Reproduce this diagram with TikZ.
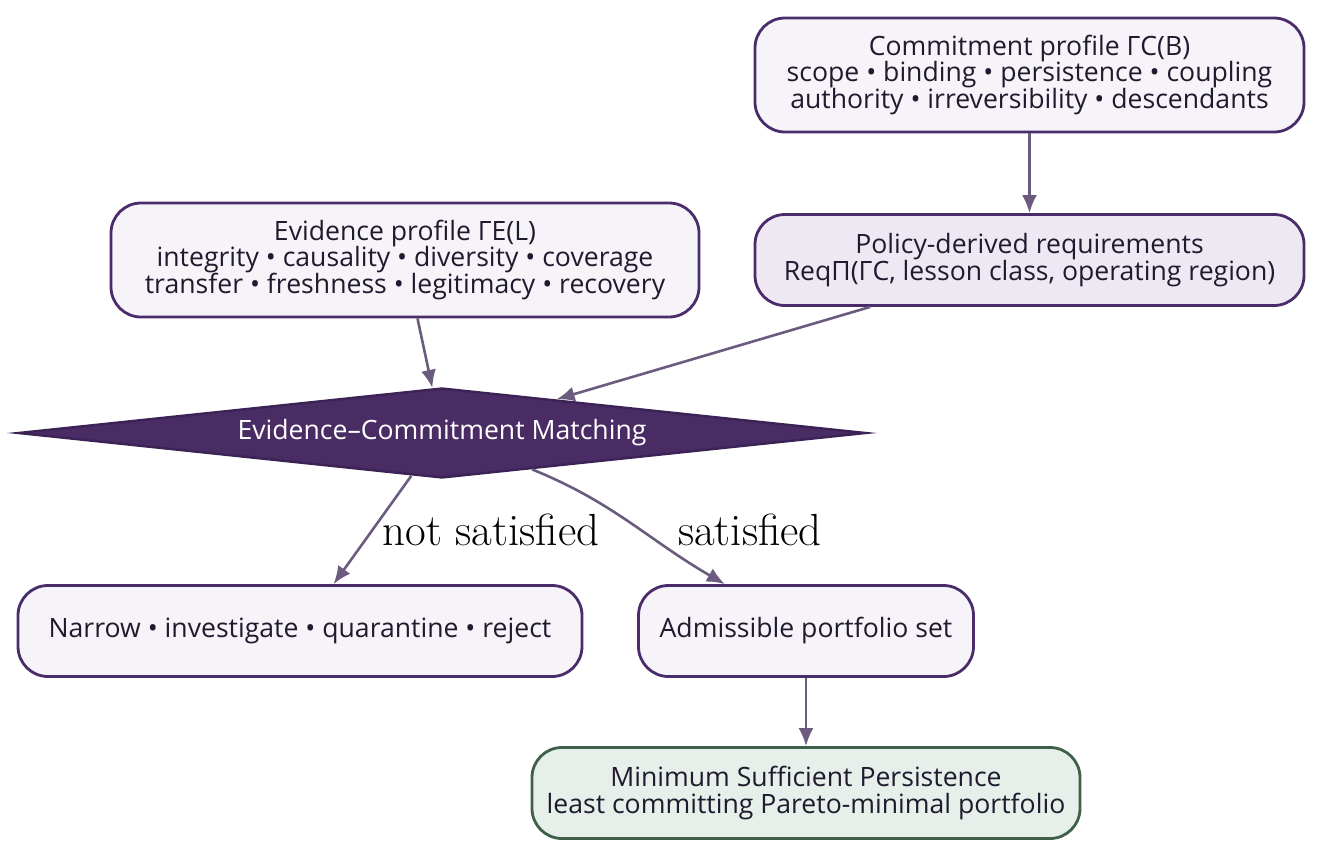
\documentclass[tikz,border=0pt]{standalone}
\usepackage{fontspec}
\setsansfont{Open Sans}
\usepackage{tikz}
\usetikzlibrary{shapes.geometric,arrows.meta}
\usepackage{xcolor}

\definecolor{boxline}{HTML}{4B2C6B}
\definecolor{boxfill}{HTML}{F6F4F9}
\definecolor{reqfill}{HTML}{EEE8F3}
\definecolor{matchfill}{HTML}{4A2C64}
\definecolor{matchline}{HTML}{3B2356}
\definecolor{mspfill}{HTML}{E6EFE9}
\definecolor{mspline}{HTML}{3F5F49}
\definecolor{edgecol}{HTML}{6B5B7E}
\definecolor{inktext}{HTML}{1F1A2E}

\begin{document}
\begin{tikzpicture}[
  x=0.5pt, y=-0.5pt,
  every node/.style={font=\sffamily\fontsize{13.3}{13.4}\selectfont, align=center, inner sep=0pt, text=inktext},
  profile/.style={draw=boxline, line width=1.4pt, rounded corners=15pt, fill=boxfill, minimum height=57pt},
  outcome/.style={draw=boxline, line width=1.4pt, rounded corners=15pt, fill=boxfill, minimum height=45.5pt},
  reqbox/.style={outcome, fill=reqfill},
  mspbox/.style={outcome, draw=mspline, fill=mspfill},
  matchbox/.style={diamond, aspect=9, draw=matchline, line width=1.2pt, fill=matchfill, text=white, minimum width=424pt, minimum height=45pt},
  edgelabel/.style={font=\rmfamily\fontsize{22.5}{26}\selectfont, text=black},
  link/.style={draw=edgecol, line width=1.3pt, -{Latex[length=9pt,width=7.5pt]}}
]
\useasboundingbox (0,0) rectangle (1319,858);

\node[profile, minimum width=274.5pt] (commit) at (1029.5,75)
  {Commitment profile ΓC(B)\\ scope • binding • persistence • coupling\\ authority • irreversibility • descendants};
\node[reqbox, minimum width=274.5pt] (policy) at (1029.5,260)
  {Policy-derived requirements\\ ReqΠ(ΓC, lesson class, operating region)};
\node[profile, minimum width=294pt] (evidence) at (405,260)
  {Evidence profile ΓE(L)\\ integrity • causality • diversity • coverage\\ transfer • freshness • legitimacy • recovery};
\node[matchbox] (match) at (442,433) {Evidence–Commitment Matching};
\node[outcome, minimum width=282pt] (narrow) at (300,631) {Narrow • investigate • quarantine • reject};
\node[outcome, minimum width=167.5pt] (admissible) at (806,631) {Admissible portfolio set};
\node[mspbox, minimum width=274pt] (msp) at (806,793)
  {Minimum Sufficient Persistence\\ least committing Pareto-minimal portfolio};

% edges
\draw[link] (commit) -- (policy);
\draw[link] (evidence) -- (match);
\draw[link] (policy) -- (match);
\draw[link] (match) -- (narrow);
\draw[link] (match) to[out=-22, in=150] (admissible);
\draw[link] (admissible) -- (msp);

\node[edgelabel] (lblnot) at (491,530) {not satisfied};
\node[edgelabel] (lblsat) at (750,530) {satisfied};
\end{tikzpicture}
\end{document}
